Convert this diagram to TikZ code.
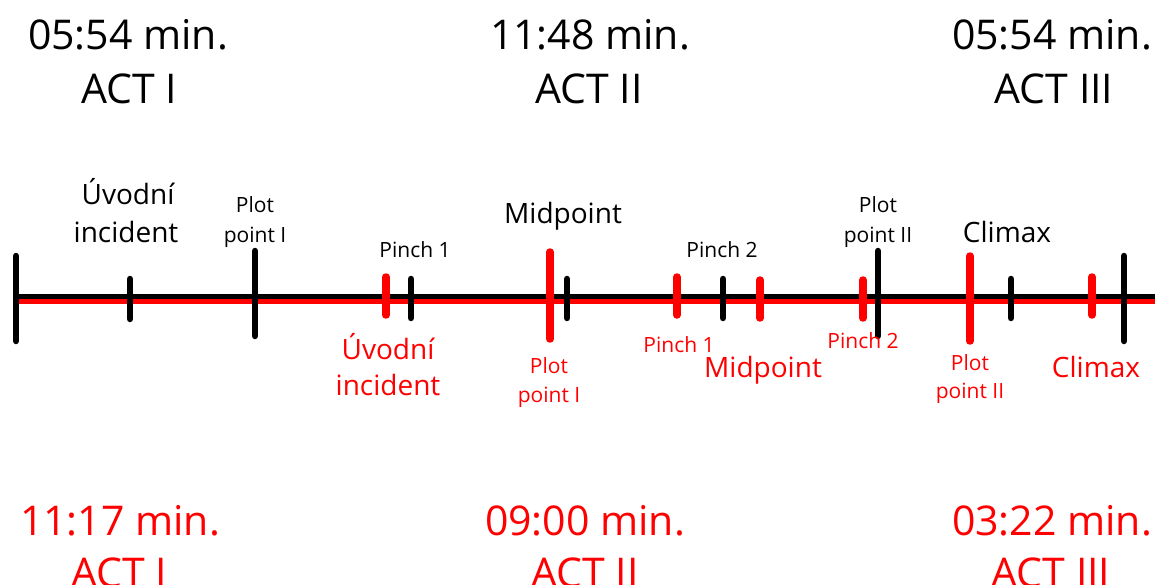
\documentclass[tikz,border=0pt]{standalone}
\usepackage{fontspec}
\setmainfont{Open Sans}
\definecolor{plotred}{RGB}{255,0,0}
\tikzset{
  big/.style={font=\fontsize{41}{48}\selectfont, anchor=base, inner sep=0pt},
  mid/.style={font=\fontsize{28}{32}\selectfont, anchor=base, inner sep=0pt},
  small/.style={font=\fontsize{21}{24}\selectfont, anchor=base, inner sep=0pt},
  redtxt/.style={text=plotred},
  blacktick/.style={line width=6.5pt, line cap=round, draw=black},
  redtick/.style={line width=7.5pt, line cap=round, draw=plotred},
}
\begin{document}
\begin{tikzpicture}[x=1pt, y=-1pt]
\useasboundingbox (0,0) rectangle (1155,585);
\fill[white] (0,0) rectangle (1155,585);

% the two time lines
\coordinate (lineL) at (15,296.5);
\coordinate (lineR) at (1160,296.5);
\draw[line width=5pt] (lineL) -- (lineR);
\draw[plotred, line width=5pt] ([yshift=-5pt]lineL) -- ([yshift=-5pt]lineR);

% black structure ticks
\draw[blacktick] (16,256) -- (16,341);
\draw[blacktick] (130,279) -- (130,319);
\draw[blacktick] (255,251) -- (255,336);
\draw[blacktick] (411,279) -- (411,318);
\draw[blacktick] (567,279) -- (567,318);
\draw[blacktick] (723,279) -- (723,318);
\draw[blacktick] (1011,279) -- (1011,318);
\draw[blacktick] (1124,256) -- (1124,341);

% red structure ticks
\draw[redtick] (386,277) -- (386,315);
\draw[redtick] (550,252) -- (550,339);
\draw[redtick] (677,277) -- (677,315);
\draw[redtick] (760,280) -- (760,318);
\draw[redtick] (863,280) -- (863,318);
\draw[redtick] (970,256) -- (970,341);
\draw[redtick] (1092,277) -- (1092,315);
\draw[blacktick] (878,251) -- (878,336);

% act headings, black version
\node[big] (t1) at (128,50) {05:54 min.};
\node[big] (a1) at (129,104) {ACT I};
\node[big] (t2) at (590,50) {11:48 min.};
\node[big] (a2) at (589,104) {ACT II};
\node[big] (t3) at (1052,50) {05:54 min.};
\node[big] (a3) at (1054,104) {ACT III};

% act headings, red version
\node[big, redtxt] (rt1) at (120,535) {11:17 min.};
\node[big, redtxt] (ra1) at (119,587) {ACT I};
\node[big, redtxt] (rt2) at (585,535) {09:00 min.};
\node[big, redtxt] (ra2) at (585,587) {ACT II};
\node[big, redtxt] (rt3) at (1052,535) {03:22 min.};
\node[big, redtxt] (ra3) at (1051,587) {ACT III};

% black beat labels
\node[mid] (uv1) at (128,205) {Úvodní};
\node[mid] (uv2) at (126,243) {incident};
\node[small] (pp1a) at (255,213) {Plot};
\node[small] (pp1b) at (255,242) {point I};
\node[small] (pi1) at (415,258) {Pinch 1};
\node[mid] (mp) at (563,223) {Midpoint};
\node[small] (pi2) at (722,258) {Pinch 2};
\node[small] (pp2a) at (878,213) {Plot};
\node[small] (pp2b) at (878,242) {point II};
\node[mid] (cl) at (1007,243) {Climax};

% red beat labels
\node[mid, redtxt] (ruv1) at (388,359) {Úvodní};
\node[mid, redtxt] (ruv2) at (388,395) {incident};
\node[small, redtxt] (rpp1a) at (549,373) {Plot};
\node[small, redtxt] (rpp1b) at (549,402) {point I};
\node[small, redtxt] (rpi1) at (679,352) {Pinch 1};
\node[mid, redtxt] (rmp) at (763,377) {Midpoint};
\node[small, redtxt] (rpi2) at (863,348) {Pinch 2};
\node[small, redtxt] (rpp2a) at (970,370) {Plot};
\node[small, redtxt] (rpp2b) at (970,398) {point II};
\node[mid, redtxt] (rcl) at (1096,377) {Climax};
\end{tikzpicture}
\end{document}
